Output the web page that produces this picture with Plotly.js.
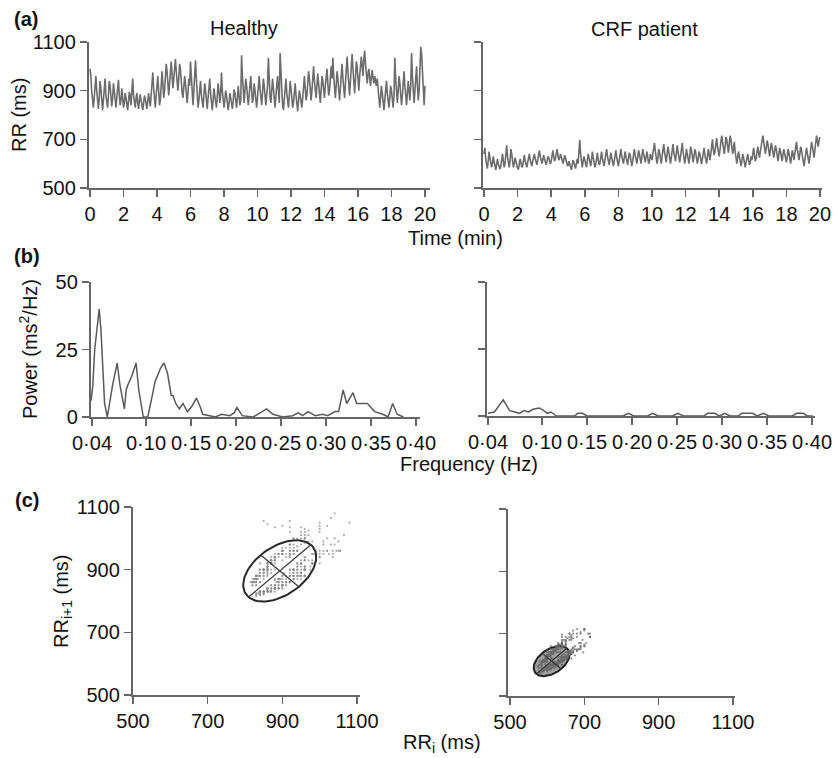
<!DOCTYPE html>
<html>
<head>
<meta charset="utf-8">
<script src="https://cdn.plot.ly/plotly-3.0.1.min.js"></script>
<style>html,body{margin:0;padding:0;background:#fff;}#chart{width:837px;height:758px;}</style>
</head>
<body>
<div id="chart"></div>
<script>
// ---------- DATA ----------
// RR interval series (ms), one value every 0.05 min, 0–20 min
const sampleStepMin = 0.05;
const rrHealthy = [
  990, 960, 900, 850, 830, 870, 930, 960, 900, 840,
  825, 870, 940, 910, 850, 820, 860, 920, 950, 880,
  840, 830, 880, 940, 920, 860, 835, 870, 930, 900,
  850, 830, 870, 920, 945, 880, 840, 860, 910, 870,
  830, 850, 890, 870, 830, 820, 860, 895, 870, 840,
  900, 950, 880, 840, 830, 870, 890, 850, 825, 860,
  885, 860, 830, 820, 850, 880, 865, 830, 825, 860,
  890, 860, 835, 880, 940, 975, 910, 850, 830, 880,
  940, 960, 900, 840, 860, 920, 980, 930, 870, 900,
  960, 1010, 980, 920, 880, 930, 1000, 1020, 960, 910,
  950, 1000, 1030, 980, 920, 900, 950, 1010, 990, 930,
  890, 870, 920, 960, 930, 870, 850, 890, 950, 920,
  1020, 960, 880, 840, 900, 970, 1025, 950, 870, 830,
  860, 920, 940, 880, 840, 830, 880, 930, 900, 850,
  825, 870, 930, 950, 890, 840, 820, 860, 910, 880,
  840, 830, 880, 930, 900, 850, 880, 975, 900, 850,
  830, 860, 900, 880, 840, 820, 850, 890, 870, 835,
  825, 860, 905, 890, 850, 830, 870, 920, 880, 840,
  860, 1045, 960, 880, 850, 900, 950, 920, 860, 840,
  880, 940, 960, 900, 850, 870, 930, 900, 850, 830,
  870, 930, 960, 910, 860, 840, 890, 950, 920, 860,
  840, 880, 920, 1035, 940, 870, 850, 900, 950, 910,
  860, 830, 880, 940, 960, 900, 850, 1055, 960, 880,
  840, 820, 870, 930, 950, 890, 840, 830, 880, 940,
  910, 860, 830, 850, 900, 930, 880, 830, 815, 860,
  900, 880, 840, 830, 870, 920, 960, 910, 860, 880,
  930, 980, 950, 890, 860, 900, 960, 1000, 940, 880,
  870, 920, 970, 930, 880, 850, 900, 960, 940, 890,
  870, 920, 980, 990, 930, 880, 900, 960, 1000, 950,
  1035, 960, 900, 870, 920, 980, 950, 890, 860, 910,
  970, 1010, 950, 890, 870, 930, 1000, 1040, 980, 920,
  880, 940, 1000, 1050, 990, 930, 890, 950, 1020, 1000,
  940, 900, 960, 1020, 1040, 1000, 960, 1030, 1065, 1010,
  960, 930, 970, 990, 950, 920, 960, 985, 950, 930,
  960, 940, 920, 950, 900, 860, 830, 870, 920, 890,
  840, 820, 860, 910, 940, 890, 840, 830, 870, 920,
  900, 850, 830, 880, 1035, 950, 880, 850, 900, 960,
  930, 870, 840, 880, 950, 980, 920, 860, 840, 890,
  940, 900, 860, 920, 1055, 960, 880, 850, 900, 960,
  1000, 920, 860, 900, 1040, 1080, 1050, 960, 880, 840,
  920
];
const rrCRF = [
  640, 665, 620, 590, 580, 610, 650, 625, 595, 585,
  600, 630, 610, 585, 575, 595, 620, 600, 580, 578,
  590, 615, 640, 610, 585, 600, 650, 675, 630, 595,
  585, 610, 660, 640, 600, 585, 600, 625, 610, 590,
  580, 578, 600, 620, 605, 585, 590, 615, 635, 610,
  590, 585, 605, 630, 640, 615, 595, 590, 610, 625,
  640, 620, 600, 595, 615, 640, 655, 630, 605, 600,
  615, 635, 620, 600, 595, 610, 630, 625, 605, 598,
  610, 640, 655, 630, 610, 620, 645, 660, 635, 615,
  620, 640, 630, 610, 600, 615, 635, 625, 605, 595,
  590, 610, 600, 580, 575, 595, 615, 605, 585, 580,
  600, 620, 600, 640, 697, 640, 600, 585, 610, 630,
  615, 590, 585, 610, 640, 625, 600, 590, 615, 650,
  625, 600, 585, 595, 625, 645, 615, 595, 600, 630,
  650, 620, 595, 590, 615, 640, 660, 630, 600, 595,
  620, 645, 625, 600, 590, 610, 640, 655, 625, 600,
  590, 615, 650, 660, 630, 605, 600, 625, 650, 630,
  605, 595, 620, 645, 635, 610, 590, 610, 640, 660,
  635, 610, 600, 625, 655, 640, 610, 600, 630, 660,
  640, 615, 605, 630, 650, 625, 600, 610, 640, 630,
  615, 640, 670, 685, 650, 620, 600, 625, 660, 645,
  620, 600, 630, 665, 680, 645, 615, 605, 640, 670,
  650, 620, 600, 625, 660, 680, 645, 615, 610, 640,
  675, 650, 620, 605, 630, 665, 685, 650, 620, 600,
  625, 660, 640, 610, 600, 630, 670, 655, 620, 605,
  630, 660, 645, 615, 600, 620, 650, 640, 610, 598,
  620, 650, 665, 635, 605, 600, 630, 660, 640, 615,
  640, 690, 700, 660, 635, 650, 690, 705, 670, 640,
  630, 660, 700, 715, 690, 655, 640, 670, 710, 700,
  665, 645, 680, 715, 700, 660, 640, 660, 690, 650,
  620, 600, 625, 650, 630, 605, 590, 610, 640, 625,
  600, 585, 605, 635, 640, 615, 595, 605, 630, 615,
  640, 665, 635, 610, 620, 650, 670, 645, 625, 650,
  680, 700, 715, 690, 660, 640, 665, 695, 680, 650,
  630, 655, 685, 670, 640, 625, 650, 675, 660, 630,
  610, 635, 665, 650, 620, 610, 640, 660, 640, 615,
  605, 630, 660, 645, 615, 600, 625, 655, 640, 615,
  640, 680, 690, 660, 630, 615, 640, 670, 655, 625,
  600, 590, 615, 650, 665, 640, 610, 600, 630, 665,
  690, 670, 640, 625, 660, 700, 715, 690, 670, 700,
  710
];

// Power spectra (ms^2/Hz)
const freqHealthy = [0.039,0.041,0.043,0.046,0.048,0.050,0.052,0.054,0.057,0.060,0.063,0.068,0.071,0.076,0.078,0.080,0.084,0.089,0.092,0.097,0.102,0.107,0.110,0.116,0.120,0.124,0.126,0.128,0.130,0.133,0.137,0.141,0.146,0.151,0.156,0.160,0.163,0.171,0.177,0.184,0.193,0.198,0.201,0.207,0.219,0.224,0.234,0.241,0.252,0.263,0.269,0.274,0.280,0.288,0.296,0.302,0.310,0.314,0.319,0.323,0.330,0.334,0.346,0.354,0.363,0.369,0.374,0.379,0.386];
const powerHealthy = [6,12,25,33,40,32,15,5,0,6,12,20,12,3,10,12,15,20,10,0,0,8,13,18,20,16,12,8,8,5,3,5,2,4,7,4,1,0.5,0,1,0.5,1.5,3.5,0.5,0,1,3,1,0,0.5,1.5,0.5,2,0.5,1,0.5,2,2,10,5,9,5,5,2,1,0,5,1,0];
const freqCRF = [0.040,0.047,0.057,0.064,0.070,0.075,0.080,0.085,0.090,0.097,0.102,0.106,0.110,0.116,0.136,0.140,0.145,0.150,0.190,0.196,0.202,0.217,0.223,0.229,0.245,0.251,0.257,0.280,0.284,0.292,0.297,0.303,0.309,0.318,0.322,0.334,0.339,0.346,0.352,0.378,0.383,0.390,0.395,0.401];
const powerCRF = [1,1.5,6,2,1.5,1,2,1.5,2.5,3,2,1,1.5,0,0,1,1,0,0,1,0,0,1,0,0,1,0,0,1,1,0,1,0,0,1,1,0,1,0,0,1,1,0,0];

// Poincaré ellipse parameters: [healthy, CRF]
const ellCenterX = [893, 612];
const ellCenterY = [896, 612];
const ellSemiMajor = [118, 58];
const ellSemiMinor = [72, 36];
const ellAngleDeg = [45, 45];

// Tick labels
const timeTicks = [0,2,4,6,8,10,12,14,16,18,20];
const rrTicks = [500,700,900,1100];
const powerTicks = [0,25,50];
const freqTicks = [0.04,0.10,0.15,0.20,0.25,0.30,0.35,0.40];
const freqTickText = ['0·04','0·10','0·15','0·20','0·25','0·30','0·35','0·40'];

// ---------- BUILD ----------
const W = 837, H = 758;
const px = v => v / W;
const py = v => 1 - v / H;
const FONT = 'Liberation Sans, Arial, Helvetica, sans-serif';
const AX = '#666666';
const LINE = '#6c6c6c';

const tHealthy = rrHealthy.map((_, i) => +(i * sampleStepMin).toFixed(2));
const tCRF = rrCRF.map((_, i) => +(i * sampleStepMin).toFixed(2));

function ellipse(k) {
  const th = ellAngleDeg[k] * Math.PI / 180;
  const c = Math.cos(th), s = Math.sin(th);
  const xs = [], ys = [];
  for (let i = 0; i <= 90; i++) {
    const u = 2 * Math.PI * i / 90;
    const a = ellSemiMajor[k] * Math.cos(u), b = ellSemiMinor[k] * Math.sin(u);
    xs.push(ellCenterX[k] + a * c - b * s);
    ys.push(ellCenterY[k] + a * s + b * c);
  }
  const A = ellSemiMajor[k], B = ellSemiMinor[k];
  const cx = ellCenterX[k], cy = ellCenterY[k];
  const axX = [cx - A * c, cx + A * c, null, cx + B * s, cx - B * s];
  const axY = [cy - A * s, cy + A * s, null, cy - B * c, cy + B * c];
  return {xs, ys, axX, axY};
}
const e0 = ellipse(0), e1 = ellipse(1);

const traces = [
  {x: tHealthy, y: rrHealthy, xaxis: 'x', yaxis: 'y', mode: 'lines', line: {color: LINE, width: 1.6}},
  {x: tCRF, y: rrCRF, xaxis: 'x2', yaxis: 'y2', mode: 'lines', line: {color: LINE, width: 1.6}},
  {x: freqHealthy, y: powerHealthy, xaxis: 'x3', yaxis: 'y3', mode: 'lines', line: {color: '#5a5a5a', width: 1.5}},
  {x: freqCRF, y: powerCRF, xaxis: 'x4', yaxis: 'y4', mode: 'lines', line: {color: '#5a5a5a', width: 1.5}},
  {x: rrHealthy.slice(0, -1), y: rrHealthy.slice(1), xaxis: 'x5', yaxis: 'y5', mode: 'markers',
   marker: {color: '#8a8a8a', size: 2.2, opacity: 0.7}},
  {x: e0.xs, y: e0.ys, xaxis: 'x5', yaxis: 'y5', mode: 'lines', line: {color: '#2a2a2a', width: 2}},
  {x: e0.axX, y: e0.axY, xaxis: 'x5', yaxis: 'y5', mode: 'lines', line: {color: '#3a3a3a', width: 1.3}},
  {x: e1.xs, y: e1.ys, xaxis: 'x6', yaxis: 'y6', mode: 'lines', fill: 'toself',
   fillcolor: 'rgba(95,95,95,0.6)', line: {color: '#222', width: 2}},
  {x: rrCRF.slice(0, -1), y: rrCRF.slice(1), xaxis: 'x6', yaxis: 'y6', mode: 'markers',
   marker: {color: '#6a6a6a', size: 2.2, opacity: 0.75}},
  {x: e1.axX, y: e1.axY, xaxis: 'x6', yaxis: 'y6', mode: 'lines', line: {color: '#333', width: 1.2}}
];

function xa(d0, d1, range, ticks, anchor, text) {
  const o = {domain: [px(d0), px(d1)], range: range, anchor: anchor,
    showline: true, linecolor: AX, linewidth: 2.2, showgrid: false, zeroline: false,
    ticks: 'outside', ticklen: 7, tickwidth: 1.6, tickcolor: AX,
    tickmode: 'array', tickvals: ticks, tickfont: {family: FONT, size: 20, color: '#111'}};
  if (text) o.ticktext = text;
  return o;
}
function ya(top, bottom, range, ticks, anchor, labels) {
  return {domain: [py(bottom), py(top)], range: range, anchor: anchor,
    showline: true, linecolor: AX, linewidth: 2.2, showgrid: false, zeroline: false,
    ticks: 'outside', ticklen: 7, tickwidth: 1.6, tickcolor: AX,
    tickmode: 'array', tickvals: ticks, showticklabels: labels,
    tickfont: {family: FONT, size: 20, color: '#111'}};
}

const ann = (x, y, text, opts) => Object.assign({
  xref: 'paper', yref: 'paper', x: px(x), y: py(y), text: text, showarrow: false,
  xanchor: 'center', yanchor: 'middle', font: {family: FONT, size: 20, color: '#111'}}, opts || {});

const layout = {
  width: W, height: H, autosize: false,
  margin: {l: 0, r: 0, t: 0, b: 0},
  paper_bgcolor: '#fff', plot_bgcolor: '#fff',
  showlegend: false,
  font: {family: FONT, color: '#111'},
  xaxis: xa(89, 430, [-0.06, 20.3], timeTicks, 'y'),
  yaxis: ya(42, 188, [500, 1100], rrTicks, 'x', true),
  xaxis2: xa(483, 822, [-0.06, 20.12], timeTicks, 'y2'),
  yaxis2: ya(42, 188, [500, 1100], rrTicks, 'x2', false),
  xaxis3: xa(91, 420, [0.0389, 0.4044], freqTicks, 'y3', freqTickText),
  yaxis3: ya(282, 417, [0, 50], powerTicks, 'x3', true),
  xaxis4: xa(487, 815, [0.0389, 0.4033], freqTicks, 'y4', freqTickText),
  yaxis4: ya(282, 416, [0, 50], powerTicks, 'x4', false),
  xaxis5: xa(133, 360, [500, 1108], rrTicks, 'y5'),
  yaxis5: ya(507, 695, [500, 1100], rrTicks, 'x5', true),
  xaxis6: xa(508, 735, [494.6, 1105.4], rrTicks, 'y6'),
  yaxis6: ya(509, 696, [500, 1100], rrTicks, 'x6', false),
  annotations: [
    ann(26, 19, '<b>(a)</b>'),
    ann(244, 28, 'Healthy'),
    ann(644, 29, 'CRF patient'),
    ann(19, 115, 'RR (ms)', {textangle: -90}),
    ann(455, 238, 'Time (min)'),
    ann(27, 256, '<b>(b)</b>'),
    ann(28, 349, 'Power (ms<sup>2</sup>/Hz)', {textangle: -90}),
    ann(469, 464, 'Frequency (Hz)'),
    ann(27, 500, '<b>(c)</b>'),
    ann(62, 601, 'RR<sub>i+1</sub> (ms)', {textangle: -90}),
    ann(442, 743, 'RR<sub>i</sub> (ms)')
  ]
};

Plotly.newPlot('chart', traces, layout, {staticPlot: true, displayModeBar: false});
</script>
</body>
</html>
